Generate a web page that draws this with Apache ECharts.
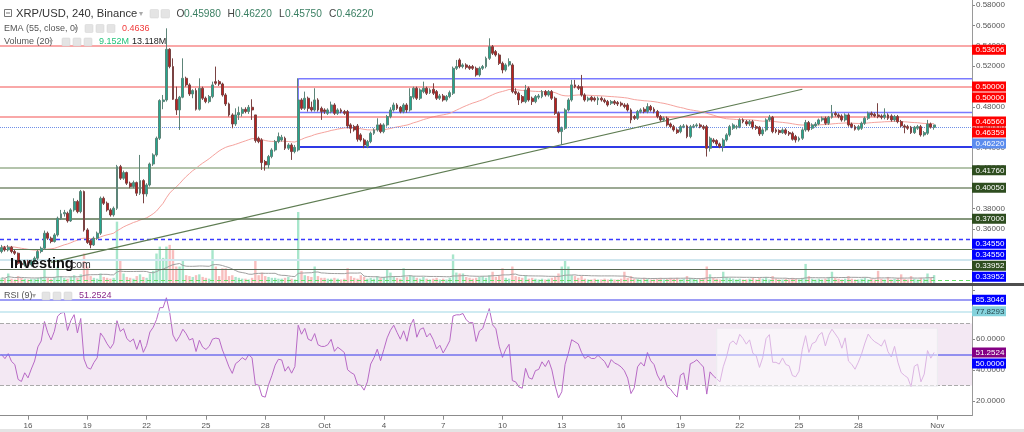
<!DOCTYPE html>
<html><head><meta charset="utf-8">
<script src="https://cdn.jsdelivr.net/npm/echarts@6/dist/echarts.min.js"></script>
<style>html,body{margin:0;padding:0;background:#fff;}#c{width:1024px;height:432px;}</style>
</head><body><div id="c"></div>
<script>
// ---------- DATA (XRP/USD 4h candles, Sep 14 16:00 -> Oct 31 20:00, 2018) ----------
const opens = [
.3378,.3417,.3394,.3420,.3378,.3361,.3263,.3247,.3280,.3247,
.3280,.3312,.3378,.3410,.3558,.3509,.3476,.3541,.3705,.3748,
.3754,.3679,.3787,.3869,.3770,.3967,.3590,.3486,.3443,.3509,
.3558,.3901,.3852,.3787,.3738,.3803,.4212,.4098,.4154,.4049,
.4016,.4055,.3951,.4075,.3944,.4032,.4238,.4327,.4491,.4851,
.4867,.5365,.5195,.4874,.4769,.4894,.5080,.5015,.4926,.4959,
.4776,.4982,.4884,.4851,.4900,.5047,.5047,.5024,.4916,.4828,
.4720,.4631,.4720,.4736,.4775,.4753,.4795,.4720,.4491,.4474,
.4262,.4229,.4311,.4376,.4458,.4474,.4491,.4393,.4425,.4360,
.4376,.4867,.4785,.4884,.4795,.4769,.4867,.4785,.4769,.4736,
.4753,.4818,.4736,.4769,.4753,.4753,.4622,.4605,.4612,.4524,
.4474,.4409,.4458,.4540,.4573,.4622,.4556,.4622,.4704,.4769,
.4818,.4795,.4753,.4818,.4769,.4894,.4982,.4884,.4949,.4982,
.4939,.4972,.4949,.4884,.4907,.4867,.4900,.4933,.5178,.5260,
.5195,.5211,.5195,.5195,.5178,.5113,.5178,.5195,.5276,.5391,
.5342,.5309,.5227,.5162,.5211,.5211,.4949,.4933,.4900,.4851,
.4982,.4884,.4851,.4894,.4900,.4949,.4916,.4949,.4884,.4736,
.4556,.4589,.4769,.4867,.5015,.4998,.4998,.4916,.4867,.4894,
.4884,.4867,.4884,.4867,.4851,.4835,.4851,.4841,.4835,.4818,
.4818,.4769,.4704,.4687,.4753,.4776,.4753,.4802,.4776,.4753,
.4704,.4671,.4687,.4631,.4605,.4573,.4556,.4605,.4612,.4507,
.4605,.4612,.4622,.4605,.4605,.4393,.4474,.4468,.4435,.4409,
.4474,.4524,.4589,.4599,.4605,.4671,.4654,.4631,.4654,.4605,
.4599,.4533,.4573,.4671,.4697,.4573,.4566,.4546,.4573,.4546,
.4540,.4507,.4474,.4491,.4573,.4645,.4589,.4612,.4631,.4671,
.4687,.4638,.4697,.4736,.4720,.4710,.4671,.4720,.4631,.4605,
.4579,.4589,.4638,.4687,.4736,.4726,.4720,.4710,.4697,.4720,
.4710,.4671,.4704,.4654,.4612,.4605,.4599,.4546,.4589,.4605,
.4524,.4540,.4631,.4598];
const closes = [
.3417,.3394,.3420,.3378,.3361,.3263,.3247,.3280,.3247,.3280,
.3312,.3378,.3410,.3558,.3509,.3476,.3541,.3705,.3748,.3761,
.3679,.3787,.3869,.3770,.3967,.3590,.3466,.3443,.3509,.3558,
.3901,.3852,.3787,.3738,.3803,.4212,.4098,.4154,.4049,.4016,
.4055,.3951,.4075,.3944,.4032,.4238,.4327,.4491,.4861,.4867,
.5365,.5195,.4874,.4769,.4894,.5080,.5015,.4926,.4959,.4776,
.4982,.4884,.4851,.4900,.5015,.5031,.5024,.4916,.4828,.4720,
.4631,.4720,.4743,.4775,.4753,.4795,.4769,.4468,.4458,.4252,
.4229,.4311,.4376,.4458,.4507,.4501,.4393,.4425,.4360,.4402,
.4867,.4785,.4884,.4785,.4769,.4867,.4769,.4753,.4753,.4769,
.4818,.4736,.4769,.4753,.4736,.4612,.4589,.4573,.4481,.4474,
.4425,.4458,.4540,.4573,.4622,.4556,.4622,.4704,.4769,.4818,
.4785,.4753,.4818,.4769,.4900,.4982,.4884,.4965,.4982,.4933,
.4965,.4933,.4884,.4907,.4867,.4900,.4939,.5178,.5195,.5195,
.5211,.5188,.5178,.5178,.5113,.5178,.5195,.5276,.5391,.5326,
.5309,.5227,.5162,.5211,.5244,.4949,.4933,.4867,.4851,.4965,
.4867,.4851,.4900,.4907,.4949,.4916,.4949,.4884,.4736,.4556,
.4589,.4769,.4867,.5015,.4998,.4982,.4916,.4867,.4884,.4867,
.4867,.4884,.4867,.4851,.4818,.4851,.4835,.4828,.4818,.4802,
.4769,.4671,.4687,.4753,.4769,.4753,.4802,.4769,.4753,.4704,
.4671,.4687,.4622,.4605,.4573,.4546,.4605,.4612,.4507,.4605,
.4612,.4622,.4605,.4589,.4393,.4491,.4458,.4435,.4409,.4474,
.4524,.4605,.4622,.4605,.4671,.4654,.4631,.4654,.4599,.4589,
.4533,.4573,.4671,.4697,.4556,.4556,.4546,.4573,.4540,.4533,
.4481,.4474,.4491,.4573,.4645,.4573,.4622,.4631,.4671,.4687,
.4638,.4697,.4736,.4720,.4704,.4671,.4720,.4622,.4605,.4579,
.4605,.4638,.4687,.4736,.4720,.4710,.4704,.4697,.4720,.4687,
.4671,.4704,.4654,.4612,.4599,.4589,.4546,.4599,.4605,.4524,
.4546,.4631,.4599,.4622];
const lows = [
.3361,.3378,.3378,.3361,.3345,.3247,.3214,.3230,.3230,.3230,
.3263,.3296,.3361,.3394,.3492,.3459,.3466,.3525,.3689,.3721,
.3662,.3669,.3770,.3754,.3754,.3574,.3453,.3410,.3433,.3492,
.3541,.3836,.3770,.3721,.3721,.3787,.4082,.4082,.4032,.4000,
.4000,.3924,.3934,.3852,.3918,.4016,.4219,.4311,.4474,.4776,
.4851,.5178,.4867,.4720,.4573,.4884,.4998,.4907,.4884,.4763,
.4763,.4867,.4835,.4835,.4884,.5015,.5005,.4900,.4808,.4704,
.4589,.4612,.4671,.4704,.4736,.4730,.4671,.4448,.4442,.4180,
.4173,.4196,.4294,.4360,.4442,.4458,.4376,.4376,.4278,.4343,
.4360,.4769,.4769,.4753,.4753,.4753,.4753,.4671,.4730,.4720,
.4736,.4720,.4720,.4736,.4720,.4589,.4540,.4556,.4458,.4458,
.4393,.4393,.4442,.4524,.4556,.4540,.4540,.4605,.4687,.4753,
.4769,.4736,.4736,.4743,.4753,.4874,.4867,.4867,.4933,.4916,
.4926,.4916,.4867,.4867,.4851,.4851,.4884,.4916,.5162,.5178,
.5178,.5168,.5162,.5162,.5096,.5096,.5162,.5178,.5260,.5309,
.5293,.5211,.5129,.5146,.5195,.4933,.4916,.4818,.4835,.4835,
.4851,.4818,.4835,.4874,.4884,.4900,.4900,.4867,.4720,.4540,
.4425,.4573,.4753,.4851,.4982,.4965,.4900,.4851,.4851,.4851,
.4851,.4818,.4851,.4835,.4802,.4818,.4818,.4808,.4802,.4785,
.4753,.4638,.4671,.4671,.4736,.4736,.4736,.4753,.4736,.4687,
.4654,.4654,.4605,.4589,.4556,.4533,.4540,.4589,.4491,.4491,
.4589,.4599,.4589,.4573,.4311,.4360,.4442,.4416,.4393,.4360,
.4458,.4507,.4573,.4579,.4589,.4638,.4612,.4612,.4579,.4573,
.4514,.4514,.4556,.4654,.4540,.4540,.4524,.4533,.4524,.4514,
.4468,.4448,.4458,.4474,.4556,.4556,.4573,.4599,.4618,.4654,
.4622,.4622,.4684,.4704,.4687,.4654,.4654,.4605,.4589,.4566,
.4566,.4573,.4622,.4671,.4704,.4697,.4687,.4677,.4677,.4671,
.4654,.4654,.4638,.4599,.4540,.4573,.4533,.4533,.4573,.4507,
.4507,.4524,.4586,.4575];
const highs = [
.3443,.3433,.3443,.3433,.3394,.3368,.3280,.3296,.3296,.3296,
.3329,.3394,.3427,.3584,.3574,.3525,.3558,.3721,.3787,.3787,
.3770,.3803,.3901,.3885,.3983,.3977,.3607,.3499,.3525,.3574,
.3918,.3918,.3869,.3803,.3820,.4229,.4229,.4173,.4163,.4065,
.4075,.4065,.4327,.4088,.4049,.4252,.4343,.4507,.4874,.4916,
.5571,.5375,.5276,.4998,.4907,.5276,.5096,.5031,.4972,.4982,
.5080,.4998,.4900,.4916,.5047,.5195,.5064,.5037,.4933,.4841,
.4736,.4785,.4802,.4795,.4795,.4818,.4874,.4720,.4507,.4491,
.4278,.4327,.4393,.4474,.4547,.4524,.4507,.4442,.4442,.4425,
.5080,.4884,.4949,.4900,.4851,.4982,.4884,.4802,.4785,.4785,
.4851,.4835,.4785,.4785,.4769,.4769,.4638,.4622,.4631,.4540,
.4491,.4474,.4556,.4589,.4687,.4638,.4638,.4720,.4795,.4841,
.4835,.4808,.4835,.4835,.4982,.4998,.4998,.4982,.5047,.4998,
.4982,.5031,.4965,.4926,.4926,.4916,.4959,.5195,.5260,.5276,
.5227,.5227,.5211,.5211,.5195,.5195,.5211,.5293,.5473,.5407,
.5358,.5326,.5244,.5227,.5276,.5227,.4982,.4949,.4916,.5015,
.4998,.4900,.4916,.4926,.4965,.4965,.4965,.4965,.4900,.4753,
.4605,.4785,.4884,.5064,.5064,.5015,.5113,.4933,.4900,.4907,
.4900,.4900,.4900,.4884,.4867,.4867,.4867,.4857,.4851,.4835,
.4835,.4785,.4720,.4769,.4785,.4795,.4835,.4818,.4795,.4769,
.4720,.4704,.4704,.4645,.4622,.4589,.4622,.4631,.4625,.4622,
.4631,.4638,.4638,.4622,.4622,.4507,.4491,.4481,.4448,.4491,
.4540,.4622,.4638,.4622,.4687,.4687,.4671,.4671,.4671,.4622,
.4612,.4589,.4687,.4720,.4710,.4589,.4579,.4589,.4589,.4562,
.4556,.4524,.4507,.4589,.4671,.4661,.4638,.4651,.4684,.4704,
.4704,.4710,.4818,.4753,.4736,.4726,.4736,.4736,.4645,.4622,
.4622,.4654,.4704,.4753,.4753,.4743,.4835,.4726,.4785,.4736,
.4726,.4720,.4720,.4671,.4628,.4622,.4612,.4612,.4622,.4622,
.4562,.4671,.4645,.4622];
// volume in millions
const volumes = [
8.6,7.2,15.8,7.2,5.8,11.5,8.6,7.2,5.8,7.2,
7.2,8.6,10.1,21.6,8.6,7.2,10.1,27.4,11.5,8.6,
7.2,10.1,13,8.6,14.4,49,27.4,11.5,8.6,7.2,
15.8,10.1,8.6,7.2,8.6,102,38.9,15.8,10.1,8.6,
7.2,11.5,14.4,10.1,8.6,15.8,20.2,49,60.5,41.8,
60.5,63.4,54.7,27.4,27.4,38.9,13,11.5,10.1,13,
14.4,10.1,8.6,7.2,54.7,27.4,11.5,24.5,24.5,11.5,
13,10.1,8.6,7.2,7.2,5.8,8.6,38.9,13,17.3,
11.5,10.1,8.6,8.6,7.2,7.2,8.6,10.1,7.2,5.8,
118,20.2,13,11.5,10.1,27.4,11.5,8.6,8.6,7.2,
7.2,8.6,7.2,5.8,7.2,24.5,11.5,8.6,7.2,13,
10.1,7.2,8.6,7.2,11.5,8.6,10.1,21.6,17.3,11.5,
8.6,7.2,24.5,10.1,13,11.5,8.6,7.2,10.1,7.2,
5.8,7.2,8.6,5.8,7.2,5.8,8.6,47.5,17.3,15.8,
15.8,10.1,8.6,7.2,8.6,10.1,11.5,8.6,13,18.7,
10.1,13,24.5,8.6,7.2,27.4,11.5,10.1,8.6,13,
7.2,8.6,7.2,5.8,7.2,5.8,7.2,8.6,10.1,15.8,
27.4,37.4,27.4,13,11.5,8.6,11.5,7.2,5.8,5.8,
7.2,5.8,5.8,7.2,5.8,7.2,5.8,5.8,7.2,18.7,
8.6,11.5,7.2,7.2,5.8,8.6,7.2,5.8,5.8,7.2,
8.6,5.8,7.2,8.6,7.2,8.6,5.8,7.2,11.5,8.6,
7.2,5.8,7.2,8.6,27.4,14.4,8.6,7.2,5.8,18.7,
10.1,8.6,7.2,5.8,7.2,5.8,5.8,7.2,8.6,5.8,
8.6,7.2,10.1,5.8,11.5,7.2,5.8,5.8,7.2,5.8,
8.6,7.2,5.8,8.6,31.7,11.5,7.2,5.8,7.2,5.8,
7.2,10.1,18.7,8.6,7.2,5.8,7.2,11.5,7.2,5.8,
5.8,7.2,8.6,5.8,7.2,5.8,20.2,7.2,5.8,10.1,
5.8,7.2,8.6,14.4,7.2,5.8,11.5,7.2,5.8,8.6,
7.2,15.8,8.6,13.118];

const xTickDates  = ['2018-09-16','2018-09-19','2018-09-22','2018-09-25','2018-09-28','2018-10-01','2018-10-04','2018-10-07','2018-10-10','2018-10-13','2018-10-16','2018-10-19','2018-10-22','2018-10-25','2018-10-28','2018-11-01'];
const xTickLabels = ['16','19','22','25','28','Oct','4','7','10','13','16','19','22','25','28','Nov'];

const resistanceLevels = [0.53606, 0.50, 0.4656];
const channelStart = 90;                 // candle index where drawn channel begins
const channelLevels = [0.5076, 0.4745, 0.4405];
const supportLevels = [0.4176, 0.4005, 0.37];
const lowerLevels = [0.3455, 0.33952, 0.3351, 0.3288, 0.3187, 0.3128];
const lastPrice = 0.4622;
const trendStart = [15, 0.3272], trendEnd = [243, 0.4972];
const priceTagValues = [0.53606, 0.50, 0.50, 0.4656, 0.46359, 0.4622, 0.4176, 0.4005, 0.37, 0.3455, 0.3455, 0.33952, 0.33952];
const priceTagKinds  = ['red','red','red','red','red','last','green','green','green','blue','blue','green','blue'];
const rsiLevels = [85.3046, 77.8293, 50];
const rsiTagValues = [85.3046, 77.8293, 51.2524, 50];
const rsiTagKinds = ['blue','cyan','purple','blue'];
const rsiBox = [217, 284, 67, 29.5];      // drawn box on RSI pane: from idx, to idx, top, bottom
const emaSeed = 0.3427, rsiSeedGain = 0.0025, rsiSeedLoss = 0.0030;
const headerEma = '0.4636', headerVolMA = '9.152M', headerRsi = '51.2524';

// ---------- derived ----------
const N = opens.length;
const slotCount = 295;
const t0 = Date.UTC(2018, 8, 14, 16);
const categories = [];
for (let i = 0; i < slotCount; i++) {
  const d = new Date(t0 + i * 4 * 3600e3);
  categories.push(d.toISOString().slice(0, 10) + ' ' + d.toISOString().slice(11, 16));
}
const candleData = opens.map((o, i) => [o, closes[i], lows[i], highs[i]]);
const ema = []; { let e = emaSeed; const k = 2 / 56; for (let i = 0; i < N; i++) { e += k * (closes[i] - e); ema.push(e); } }
const rsi = []; { let ag = rsiSeedGain, al = rsiSeedLoss; for (let i = 0; i < N; i++) { const ch = i === 0 ? closes[0] - opens[0] : closes[i] - closes[i - 1]; ag = (ag * 8 + Math.max(ch, 0)) / 9; al = (al * 8 + Math.max(-ch, 0)) / 9; rsi.push(100 - 100 / (1 + ag / al)); } }
const volMA = volumes.map((v, i) => { const s = Math.max(0, i - 19); let sum = 0; for (let j = s; j <= i; j++) sum += volumes[j]; return sum / (i - s + 1); });
const volData = volumes.map((v, i) => ({ value: v, itemStyle: { color: closes[i] >= opens[i] ? 'rgba(60,200,140,0.45)' : 'rgba(240,110,110,0.45)' } }));

function isTick(idx, val) {
  const v = val || categories[idx];
  return v.endsWith(' 00:00') && xTickDates.indexOf(v.slice(0, 10)) >= 0;
}
function tickText(val) {
  const k = xTickDates.indexOf(val.slice(0, 10));
  return (k >= 0 && val.endsWith(' 00:00')) ? xTickLabels[k] : '';
}

const FONT = '"Liberation Sans", Arial, sans-serif';
const chart = echarts.init(document.getElementById('c'), null, { renderer: 'canvas' });

const hLine = (v, color, width, type) => ({ yAxis: v, lineStyle: { color, width, type: type || 'solid' } });

const option = {
  animation: false,
  backgroundColor: '#ffffff',
  grid: [
    { left: 0, width: 972, top: 5, height: 285 },
    { left: 0, width: 972, top: 203, height: 80 },
    { left: 0, width: 972, top: 277, height: 162.5 },
    { left: 0, width: 972, top: 288, height: 127.7 }
  ],
  xAxis: [0, 1, 2, 3].map(g => ({
    type: 'category', gridIndex: g, data: categories, boundaryGap: true,
    axisLine: { show: g === 3, lineStyle: { color: '#8c8c8c' } },
    axisTick: { show: g === 3, alignWithLabel: true, interval: isTick, length: 4, lineStyle: { color: '#8c8c8c' } },
    axisLabel: { show: g === 3, interval: isTick, formatter: tickText, fontSize: 8, color: '#555', margin: 6, fontFamily: FONT },
    splitLine: { show: false }
  })),
  yAxis: [
    { gridIndex: 0, position: 'right', min: 0.30, max: 0.58, interval: 0.02,
      axisLine: { show: false }, axisTick: { show: true, length: 3, lineStyle: { color: '#888' } },
      axisLabel: { formatter: v => v < 0.355 ? '' : v.toFixed(5), fontSize: 8, color: '#555', margin: 4, fontFamily: FONT },
      splitLine: { show: false } },
    { gridIndex: 1, min: 0, max: 133, show: false, splitLine: { show: false } },
    { gridIndex: 2, position: 'right', min: 0, max: 100, interval: 20,
      axisLine: { show: false }, axisTick: { show: true, length: 3, lineStyle: { color: '#888' } },
      axisLabel: { formatter: v => (v === 0 || v === 100 || v === 80) ? '' : v.toFixed(4), fontSize: 8, color: '#555', margin: 4, fontFamily: FONT },
      splitLine: { show: false } },
    { gridIndex: 3, show: false, splitLine: { show: false } }
  ],
  series: [
    // level lines
    { type: 'line', xAxisIndex: 0, yAxisIndex: 0, data: [], silent: true, z: 1,
      markLine: { silent: true, symbol: ['none', 'none'], label: { show: false }, animation: false,
        data: [
          ...resistanceLevels.map(v => hLine(v, 'rgba(245,110,110,0.6)', 2)),
          hLine(lastPrice, '#6f8fe8', 1, 'dotted'),
          hLine(supportLevels[0], '#b4c4ac', 2),
          hLine(supportLevels[1], '#7b8d70', 1.5),
          hLine(supportLevels[2], '#5d7452', 1.5),
          hLine(lowerLevels[0], '#3a3aff', 1.3, [4, 3]),
          hLine(lowerLevels[1], '#3b3bff', 1),
          hLine(lowerLevels[2], '#5f7a55', 1.2),
          hLine(lowerLevels[3], '#cfe6ee', 2),
          hLine(lowerLevels[4], '#5b6b55', 1.2),
          hLine(lowerLevels[5], '#66dd66', 1.2, [4, 3]),
          [{ coord: [categories[trendStart[0]], trendStart[1]], lineStyle: { color: '#5e7c52', width: 1.2, type: 'solid' } },
           { coord: [categories[trendEnd[0]], trendEnd[1]] }]
        ] } },
    // drawn channel rectangle
    { type: 'custom', xAxisIndex: 0, yAxisIndex: 0, z: 2, silent: true, clip: false,
      data: [[channelStart, ...channelLevels]],
      renderItem: (params, api) => {
        const x0 = api.coord([api.value(0), api.value(1)])[0];
        const xr = params.coordSys.x + params.coordSys.width;
        const ys = [1, 2, 3].map(d => api.coord([api.value(0), api.value(d)])[1]);
        const ln = (x1, y1, x2, y2, c, w) => ({ type: 'line', shape: { x1, y1, x2, y2 }, style: { stroke: c, lineWidth: w } });
        return { type: 'group', children: [
          ln(x0, ys[0], xr, ys[0], '#7a7aff', 1.5),
          ln(x0, ys[1], xr, ys[1], '#7a7aff', 1.5),
          ln(x0, ys[2], xr, ys[2], '#2f3ae6', 2),
          ln(x0, ys[0], x0, ys[2], '#5a5aff', 1.2)
        ] };
      } },
    { name: 'EMA', type: 'line', xAxisIndex: 0, yAxisIndex: 0, data: ema, symbol: 'none', z: 3,
      lineStyle: { color: '#f5a39e', width: 1 } },
    { name: 'XRP', type: 'candlestick', xAxisIndex: 0, yAxisIndex: 0, data: candleData, barWidth: 2.4, z: 5,
      itemStyle: { color: '#22a88f', color0: '#c0201e', borderColor: '#5d8478', borderColor0: '#7a4343', borderWidth: 1 } },
    { name: 'Volume', type: 'bar', xAxisIndex: 1, yAxisIndex: 1, data: volData, barWidth: 2.4, z: 1 },
    { name: 'VolMA', type: 'line', xAxisIndex: 1, yAxisIndex: 1, data: volMA, symbol: 'none', z: 2,
      lineStyle: { color: '#a0a0a0', width: 1 } },
    // RSI
    { name: 'RSI', type: 'line', xAxisIndex: 2, yAxisIndex: 2, data: rsi, symbol: 'none', z: 3,
      lineStyle: { color: '#b86ac6', width: 1 },
      markArea: { silent: true, itemStyle: { color: '#f3e8f3' }, data: [[{ yAxis: 30 }, { yAxis: 70 }]] },
      markLine: { silent: true, symbol: ['none', 'none'], label: { show: false },
        data: [
          hLine(70, '#aaaaaa', 1, 'dashed'), hLine(30, '#aaaaaa', 1, 'dashed'),
          hLine(rsiLevels[0], '#7d7df2', 1.5), hLine(rsiLevels[1], '#bfe5ee', 1.5), hLine(rsiLevels[2], '#7272ee', 1.5)
        ] } },
    { type: 'custom', xAxisIndex: 2, yAxisIndex: 2, z: 10, silent: true, clip: false,
      data: [rsiBox],
      renderItem: (params, api) => {
        const p0 = api.coord([api.value(0), api.value(2)]);
        const p1 = api.coord([api.value(1), api.value(3)]);
        return { type: 'rect', shape: { x: p0[0], y: p0[1], width: p1[0] - p0[0], height: p1[1] - p0[1] },
          style: { fill: 'rgba(255,255,255,0.5)', stroke: 'rgba(235,235,240,0.9)', lineWidth: 1 } };
      } }
  ]
};
chart.setOption(option);

// ---------- overlay graphics: tags, header, chrome ----------
const tagStyles = {
  red: { bg: '#ff0000', fg: '#fff' }, last: { bg: '#5b8cee', fg: '#fff' },
  green: { bg: '#2e4d1f', fg: '#fff' }, blue: { bg: '#0000ff', fg: '#fff' },
  cyan: { bg: '#84d2dc', fg: '#24474c' }, purple: { bg: '#840084', fg: '#fff' }
};
function buildTags(values, kinds, axisIndex, digits) {
  const out = []; let prev = -1e9;
  values.forEach((v, i) => {
    let y = chart.convertToPixel({ yAxisIndex: axisIndex }, v);
    if (y < prev + 11) y = prev + 11;
    prev = y;
    const st = tagStyles[kinds[i]];
    out.push({ type: 'rect', shape: { x: 972, y: y - 5, width: 34, height: 10 }, style: { fill: st.bg }, z: 100 });
    out.push({ type: 'text', x: 975.5, y: y + 0.5, style: { text: v.toFixed(digits), fill: st.fg, font: '8px ' + FONT, verticalAlign: 'middle' }, z: 101 });
  });
  return out;
}
const txt = (x, y, text, fill, size, weight) => ({ type: 'text', x, y, z: 120,
  style: { text, fill, font: (weight || 'normal') + ' ' + size + 'px ' + FONT, verticalAlign: 'middle' } });
const icon = (x, y, s) => ({ type: 'rect', z: 120, shape: { x, y, width: s, height: s, r: 1 }, style: { fill: '#e4e4e4', stroke: '#d2d2d2', lineWidth: 0.5 } });
const last = N - 1;
const upCol = '#3a7f62';
const g = [
  { type: 'line', z: 90, shape: { x1: 972.5, y1: 0, x2: 972.5, y2: 283 }, style: { stroke: '#9a9a9a', lineWidth: 1 } },
  { type: 'line', z: 90, shape: { x1: 972.5, y1: 286, x2: 972.5, y2: 416 }, style: { stroke: '#9a9a9a', lineWidth: 1 } },
  { type: 'rect', z: 90, shape: { x: 0, y: 283, width: 1024, height: 3 }, style: { fill: '#4e4e4e' } },
  { type: 'rect', z: 90, shape: { x: 0, y: 429, width: 1024, height: 3 }, style: { fill: '#e4e4e4' } },
  // header line 1
  { type: 'rect', z: 120, shape: { x: 4.5, y: 9.5, width: 7, height: 7 }, style: { fill: '#fff', stroke: '#777', lineWidth: 1 } },
  { type: 'line', z: 121, shape: { x1: 6, y1: 13, x2: 10, y2: 13 }, style: { stroke: '#777', lineWidth: 1 } },
  txt(16, 14, 'XRP/USD, 240, Binance', '#333', 11.2),
  txt(139, 14, '▾', '#aaa', 8),
  icon(150, 9.5, 8.5), icon(161, 9.5, 8.5),
  txt(176.5, 14, 'O', '#444', 10.2), txt(184, 14, opens[last].toFixed(5), upCol, 10.2),
  txt(227.5, 14, 'H', '#444', 10.2), txt(235, 14, highs[last].toFixed(5), upCol, 10.2),
  txt(279, 14, 'L', '#444', 10.2), txt(285, 14, lows[last].toFixed(5), upCol, 10.2),
  txt(329, 14, 'C', '#444', 10.2), txt(336.5, 14, closes[last].toFixed(5), upCol, 10.2),
  // header line 2
  txt(4, 28.5, 'EMA (55, close, 0)', '#555', 9),
  txt(74, 28.5, '▾', '#aaa', 7.5),
  icon(85, 24.5, 8), icon(96, 24.5, 8), icon(107, 24.5, 8),
  txt(122, 28.5, headerEma, '#f03a3a', 9),
  // header line 3
  txt(4, 42, 'Volume (20)', '#555', 9),
  txt(49, 42, '▾', '#aaa', 7.5),
  icon(62, 38, 8), icon(73, 38, 8), icon(84, 38, 8),
  txt(99, 42, headerVolMA, '#22c27a', 9),
  txt(132, 42, volumes[last].toFixed(3) + 'M', '#222', 9),
  // RSI header
  txt(4, 296, 'RSI (9)', '#555', 9),
  txt(32, 296, '▾', '#aaa', 7.5),
  icon(42, 292, 8), icon(53, 292, 8), icon(64, 292, 8),
  txt(79, 296, headerRsi, '#8a2c8a', 9),
  // watermark
  txt(10, 264, 'Investing', '#111', 14.5, 'bold'),
  txt(68, 265, '.com', '#333', 10.5),
  ...buildTags(priceTagValues, priceTagKinds, 0, 5),
  ...buildTags(rsiTagValues, rsiTagKinds, 2, 4)
];
chart.setOption({ graphic: { elements: g } });
</script>
</body></html>
